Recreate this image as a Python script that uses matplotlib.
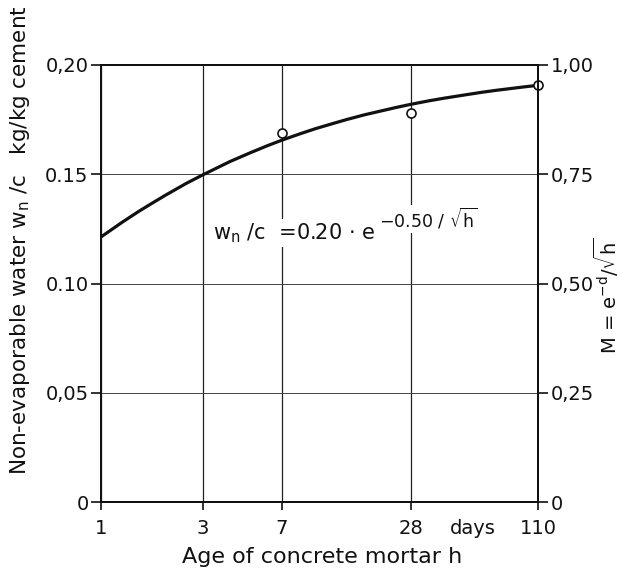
import matplotlib
matplotlib.use("Agg")
import matplotlib.pyplot as plt

# Curve (age h, non-evaporable water wn/c)
curve_h = [1, 1.25, 1.5, 1.75, 2, 2.5, 3, 4, 5, 6, 7, 8.5, 10, 12, 14, 17,
           20, 24, 28, 34, 40, 50, 60, 70, 80, 95, 110]
curve_wn = [0.1213, 0.1279, 0.1330, 0.1370, 0.1404, 0.1458, 0.1498, 0.1558,
            0.1599, 0.1631, 0.1656, 0.1685, 0.1708, 0.1731, 0.1750, 0.1772,
            0.1788, 0.1806, 0.1820, 0.1836, 0.1848, 0.1863, 0.1875, 0.1884,
            0.1891, 0.1900, 0.1907]

# Measured points
meas_h = [7, 28, 110]
meas_wn = [0.169, 0.178, 0.191]

x_ticks = [1, 3, 7, 28, 110]
x_labels = ["1", "3", "7", "28", "110"]
y_ticks = [0, 0.05, 0.10, 0.15, 0.20]
y_labels = ["0", "0,05", "0.10", "0.15", "0,20"]
m_ticks = [0, 0.25, 0.50, 0.75, 1.00]
m_labels = ["0", "0,25", "0,50", "0,75", "1,00"]

plt.rcParams['font.family'] = ['DejaVu Sans']
plt.rcParams['mathtext.default'] = 'regular'

INK = '#111111'
fig = plt.figure(figsize=(6.2, 5.73), dpi=100)
ax = fig.add_axes([101 / 620, 1 - 502 / 573, 437 / 620, 437 / 573])

ax.set_xscale('log')
ax.set_xlim(1, 110)
ax.set_ylim(0, 0.20)
ax.set_xticks(x_ticks)
ax.set_xticklabels(x_labels)
ax.xaxis.set_minor_locator(matplotlib.ticker.NullLocator())
ax.set_yticks(y_ticks)
ax.set_yticklabels(y_labels)

ax.grid(True, axis='x', color='#222222', linewidth=0.9)
ax.grid(True, axis='y', color='#444444', linewidth=0.7)
ax.set_axisbelow(True)
for s in ax.spines.values():
    s.set_linewidth(1.4)
    s.set_color(INK)

ax.tick_params(axis='x', direction='out', length=6, width=1.2,
               labelsize=14, colors=INK, pad=6)
ax.tick_params(axis='y', direction='out', length=7, width=1.2,
               labelsize=14, colors=INK, pad=2)

ax.plot(curve_h, curve_wn, color=INK, linewidth=2.3, zorder=3,
        solid_capstyle='butt')
ax.plot(meas_h, meas_wn, linestyle='none', marker='o', markersize=6.5,
        markerfacecolor='white', markeredgecolor=INK,
        markeredgewidth=1.2, zorder=4, clip_on=False)

ax2 = ax.twinx()
ax2.set_ylim(0, 1.0)
ax2.set_yticks(m_ticks)
ax2.set_yticklabels(m_labels)
ax2.tick_params(axis='y', direction='out', length=7, width=1.2,
                labelsize=14, colors=INK, pad=2)
for s in ax2.spines.values():
    s.set_linewidth(1.4)
    s.set_color(INK)

# Formula inside the plot
t_main = ax.text(3.34, 0.1231, r"w$_n$ /c  =0.20 $\cdot$ e",
                 fontsize=15, color=INK, ha='left', va='center', zorder=5,
                 bbox=dict(facecolor='white', edgecolor='none', pad=1.5))
fig.canvas.draw()
bb = t_main.get_window_extent()
sup_x, _ = ax.transData.inverted().transform((bb.x1 + 4, bb.y1))
ax.text(sup_x, 0.1295, r"$-$0.50 / $\sqrt{h}$",
        fontsize=12.5, color=INK, ha='left', va='center', zorder=5,
        bbox=dict(facecolor='white', edgecolor='none', pad=1))

fig.text(473 / 620, 1 - 528 / 573, "days", fontsize=14, color=INK,
         ha='center', va='center')

fig.text(322 / 620, 1 - 557 / 573, "Age of concrete mortar h", fontsize=16,
         color=INK, ha='center', va='center')
fig.text(20 / 620, 1 - 240 / 573,
         r"Non-evaporable water w$_n$ /c   kg/kg cement",
         fontsize=15.5, color=INK, rotation=90, ha='center', va='center')
fig.text(606 / 620, 1 - 296 / 573, r"M = e$^{-d}$/$\sqrt{h}$",
         fontsize=14, color=INK, rotation=90, ha='center', va='center')

fig.savefig("out.png", dpi=100)
